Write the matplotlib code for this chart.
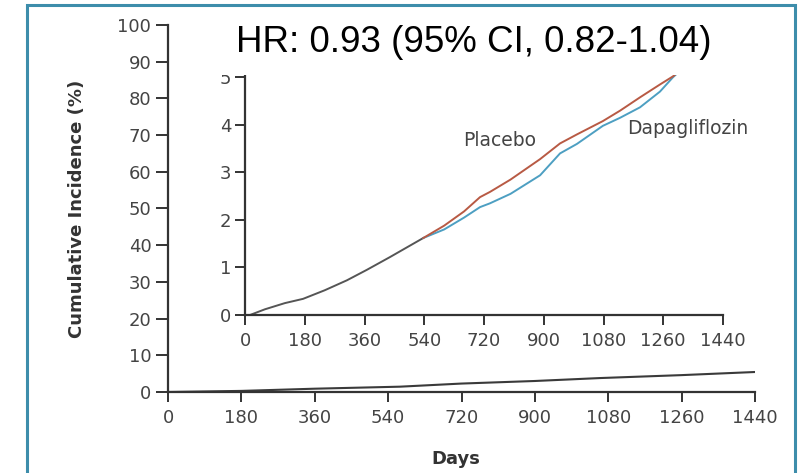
import matplotlib
matplotlib.use("Agg")
import matplotlib.pyplot as plt
from matplotlib.patches import Rectangle

# main panel (0-100 % scale)
main_days = [0, 180, 360, 569, 720, 900, 1060, 1260, 1440]
main_vals = [0, 0.3, 0.9, 1.45, 2.3, 3.0, 3.8, 4.6, 5.45]

# inset, both arms overlap up to ~540 days
pooled_days = [0, 15, 60, 120, 175, 240, 307, 367, 437, 537]
pooled_vals = [0, 0.0, 0.12, 0.25, 0.34, 0.52, 0.73, 0.95, 1.22, 1.62]

arm_days = [537, 600, 660, 708, 738, 800, 889, 949, 1000, 1078, 1130, 1190, 1250, 1289, 1320]
placebo = [1.62, 1.88, 2.18, 2.48, 2.59, 2.85, 3.28, 3.61, 3.8, 4.08, 4.3, 4.58, 4.85, 5.02, 5.2]
dapa = [1.62, 1.8, 2.05, 2.27, 2.35, 2.55, 2.94, 3.4, 3.6, 3.98, 4.15, 4.37, 4.7, 5.0, 5.2]

day_ticks = [0, 180, 360, 540, 720, 900, 1080, 1260, 1440]
main_yticks = [0, 10, 20, 30, 40, 50, 60, 70, 80, 90, 100]
inset_yticks = [0, 1, 2, 3, 4, 5]

hr_text = "HR: 0.93 (95% CI, 0.82-1.04)"

axis_col = '#333333'
label_col = '#444444'
W, H = 800, 473


def style_axes(ax, xlen, ylen):
    for side in ['top', 'right']:
        ax.spines[side].set_visible(False)
    for side in ['left', 'bottom']:
        ax.spines[side].set_color(axis_col)
        ax.spines[side].set_linewidth(1.6)
    ax.tick_params(axis='x', direction='out', length=xlen, width=1.4,
                   color=axis_col, labelcolor=label_col, labelsize=13, pad=5)
    ax.tick_params(axis='y', direction='out', length=ylen, width=1.4,
                   color=axis_col, labelcolor=label_col, labelsize=13, pad=3)


fig = plt.figure(figsize=(W / 100, H / 100), dpi=100)

ax = fig.add_axes([168 / W, 1 - 392 / H, 587 / W, 367 / H])
ax.plot(main_days, main_vals, color='#3a3a3a', lw=1.5)
ax.set_xlim(0, 1440)
ax.set_ylim(0, 100)
ax.set_xticks(day_ticks)
ax.set_yticks(main_yticks)
style_axes(ax, 7, 9)
ax.set_xlabel('Days', fontsize=13, fontweight='bold', color='#333333')
ax.xaxis.set_label_coords(0.49, -0.158)
ax.set_ylabel('Cumulative Incidence (%)', fontsize=13, fontweight='bold', color='#333333')
ax.yaxis.set_label_coords(-0.14, 0.5)

ins = fig.add_axes([245 / W, 1 - 315 / H, 478 / W, 240 / H])
ins.patch.set_alpha(0)
ins.plot(pooled_days, pooled_vals, color='#555555', lw=1.4)
ins.plot(arm_days, dapa, color='#4d9fc2', lw=1.4)
ins.plot(arm_days, placebo, color='#b85a44', lw=1.4)
ins.set_xlim(0, 1440)
ins.set_ylim(0, 5.05)
ins.set_xticks(day_ticks)
ins.set_yticks(inset_yticks)
style_axes(ins, 7, 7)
ins.text(768, 3.68, 'Placebo', fontsize=13.5, color='#444444', ha='center', va='center')
ins.text(1150, 3.93, 'Dapagliflozin', fontsize=13.5, color='#444444', ha='left', va='center')

# white box behind the hazard ratio text, covering the top of the inset
fig.patches.append(Rectangle((213 / W, 1 - 75 / H), 525 / W, 75 / H,
                             transform=fig.transFigure, facecolor='white',
                             edgecolor='none', zorder=1))
fig.text(474 / W, 1 - 42 / H, hr_text, ha='center', va='center', fontsize=26.5,
         family='Liberation Sans', color='black', zorder=2)

# frame around the picture
fig.patches.append(Rectangle((27 / W, -0.05), 768 / W, 1.05 - 5 / H,
                             transform=fig.transFigure, facecolor='none',
                             edgecolor='#3d8dab', lw=2.2, zorder=5))

fig.savefig('out.png', dpi=100)
